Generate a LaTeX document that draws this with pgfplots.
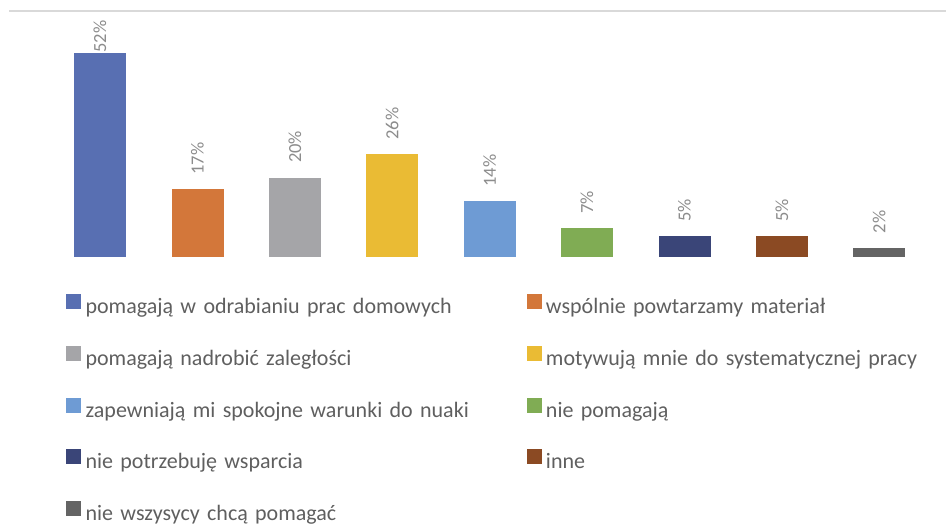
\documentclass[border=0pt]{standalone}
\usepackage{fontspec}
\setmainfont{Carlito}
\usepackage{pgfplots}
\pgfplotsset{compat=1.18}

\definecolor{c1}{RGB}{88,111,178}
\definecolor{c2}{RGB}{211,119,58}
\definecolor{c3}{RGB}{165,165,168}
\definecolor{c4}{RGB}{234,187,52}
\definecolor{c5}{RGB}{110,155,212}
\definecolor{c6}{RGB}{128,172,84}
\definecolor{c7}{RGB}{58,69,120}
\definecolor{c8}{RGB}{139,74,35}
\definecolor{c9}{RGB}{100,100,100}
\definecolor{labgray}{RGB}{140,140,140}
\definecolor{leggray}{RGB}{95,95,95}
\definecolor{topline}{RGB}{217,217,217}

\pgfplotsset{
  sq/.style={fill=#1, draw=#1,
    legend image code/.code={\fill[#1] (0pt,0pt) rectangle (14pt,14pt);}},
}

\begin{document}
\begin{tikzpicture}
\useasboundingbox (-9pt,-268pt) rectangle (937pt,256pt);
\begin{axis}[
    at={(0,0)}, anchor=south west,
    scale only axis,
    width=937pt, height=245pt,
    axis lines=none,
    ybar, bar shift=0pt, bar width=51pt,
    xmin=-0.934, xmax=8.686,
    ymin=0, ymax=62.8,
    clip=false,
    /pgf/number format/assume math mode=true,
    nodes near coords={\pgfmathprintnumber{\pgfplotspointmeta}\%},
    every node near coord/.append style={rotate=90, anchor=west,
      inner sep=0pt, outer sep=15pt, text=labgray,
      font=\fontsize{18.5}{20}\selectfont},
    legend columns=2,
    legend cell align=left,
    legend style={draw=none, fill=none, inner sep=0pt,
      at={(0.0608,-0.155)}, anchor=north west,
      nodes={inner sep=0pt, text width=435pt, align=left,
        text height=16pt, text depth=5pt,
        text=leggray, font=\fontsize{22}{25}\selectfont},
      /tikz/every odd column/.append style={column sep=5pt},
      /tikz/column 2/.append style={column sep=6pt},
      row sep=27pt},
  ]
  \addplot[sq=c1, every node near coord/.append style={outer sep=0.5pt}] coordinates {(0,52)};
  \addplot[sq=c2] coordinates {(1,17)};
  \addplot[sq=c3] coordinates {(2,20)};
  \addplot[sq=c4] coordinates {(3,26)};
  \addplot[sq=c5] coordinates {(4,14)};
  \addplot[sq=c6] coordinates {(5,7)};
  \addplot[sq=c7] coordinates {(6,5)};
  \addplot[sq=c8] coordinates {(7,5)};
  \addplot[sq=c9] coordinates {(8,2)};
  \draw[topline, line width=1.5pt] (rel axis cs:0,1) -- (rel axis cs:1,1);
  \legend{pomagają w odrabianiu prac domowych,
    wspólnie powtarzamy materiał,
    pomagają nadrobić zaległości,
    motywują mnie do systematycznej pracy,
    zapewniają mi spokojne warunki do nuaki,
    nie pomagają,
    nie potrzebuję wsparcia,
    inne,
    nie wszysycy chcą pomagać}
\end{axis}
\end{tikzpicture}
\end{document}
